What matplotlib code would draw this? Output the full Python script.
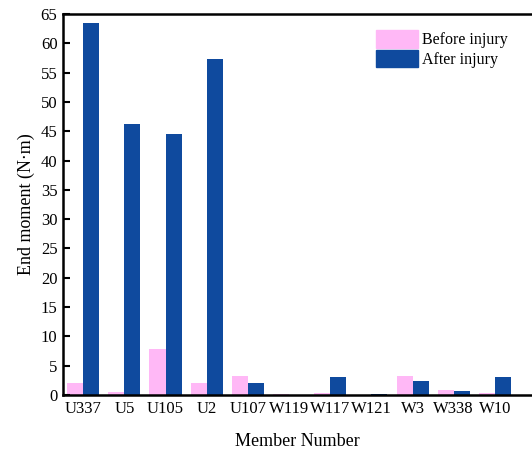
import numpy as np
import matplotlib.pyplot as plt
from matplotlib.patches import Patch

members = ["U337", "U5", "U105", "U2", "U107", "W119", "W117", "W121", "W3", "W338", "W10"]
before_injury = [2.0, 0.5, 7.9, 2.0, 3.3, 0.1, 0.4, 0.0, 3.3, 0.8, 0.3]
after_injury = [63.4, 46.3, 44.5, 57.3, 2.0, 0.0, 3.0, 0.2, 2.4, 0.7, 3.0]

pink = "#ffb8f6"
blue = "#0f4a9e"

plt.rcParams["font.family"] = ["Liberation Serif", "DejaVu Serif"]
plt.rcParams["font.size"] = 12

fig = plt.figure(figsize=(5.32, 4.5), dpi=100)
ax = fig.add_axes([0.1184, 0.1222, 0.8816, 0.8467])

x = np.arange(len(members))
w = 0.39
ax.bar(x - w / 2, before_injury, width=w, color=pink, label="Before injury")
ax.bar(x + w / 2, after_injury, width=w, color=blue, label="After injury")

ax.set_xlim(-0.49, 10.9)
ax.set_ylim(0, 65)
ax.set_yticks(np.arange(0, 66, 5))
ax.set_xticks(x)
ax.set_xticklabels(members)
ax.tick_params(axis="y", direction="in", length=5, width=1.5, labelsize=12, pad=4)
ax.tick_params(axis="x", length=0, labelsize=12, pad=4)

for side in ["left", "bottom", "top"]:
    ax.spines[side].set_linewidth(1.8)
ax.spines["right"].set_visible(False)

ax.set_xlabel("Member Number", fontsize=13, labelpad=12)
ax.set_ylabel("End moment (N·m)", fontsize=13, labelpad=4)

handles = [Patch(color=pink), Patch(color=blue)]
ax.legend(handles, ["Before injury", "After injury"], loc="upper right",
          bbox_to_anchor=(0.98, 0.995), frameon=False, fontsize=11.5,
          handlelength=2.6, handleheight=1.3, handletextpad=0.3, labelspacing=0.1)

fig.savefig("out.png", dpi=100)
